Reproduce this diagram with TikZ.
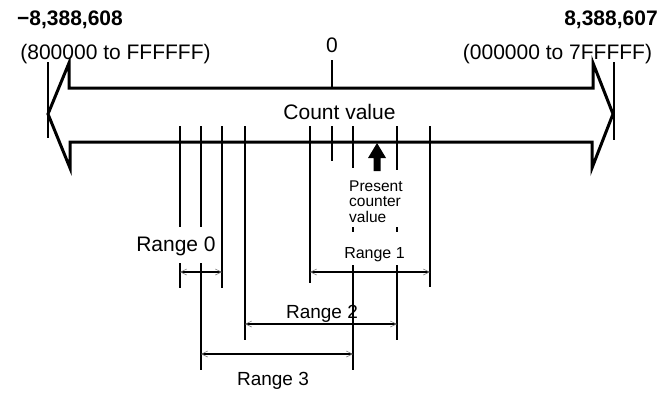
\documentclass[tikz,border=0pt]{standalone}
\usepackage{fontspec}
\setmainfont{Liberation Sans}
\usetikzlibrary{arrows.meta}
\begin{document}
\begin{tikzpicture}[x=1pt,y=-1pt,
  outline/.style={line width=3pt, line join=miter, miter limit=20},
  tick/.style={line width=1.3pt},
  barb/.tip={Straight Barb[length=6pt,width=6pt,line width=0.6pt,color=gray]},
  dim/.style={line width=1.4pt, barb-barb},
  lbl/.style={inner sep=0pt, anchor=base, font=\fontsize{21}{24}\selectfont},
  rlbl/.style={inner sep=0pt, anchor=base, font=\fontsize{19}{22}\selectfont}]
\useasboundingbox (0,0) rectangle (664,392);

% big double arrow
\draw[outline] (69,88) -- (69,63) -- (48,114) -- (70,168) -- (70,142) -- (592,142)
  -- (592,168) -- (613,114) -- (593,63) -- (593,88) -- cycle;
\draw[tick] (48,62) -- (48,138);
\draw[tick] (614,62) -- (614,140);
\draw[tick] (332,60) -- (332,88);

% ticks below the arrow
\draw[tick] (180,126) -- (180,227) (180,263) -- (180,288);
\draw[tick] (201,126) -- (201,227) (201,263) -- (201,370);
\draw[tick] (222,126) -- (222,288);
\draw[tick] (245,126) -- (245,340);
\draw[tick] (310,126) -- (310,283);
\draw[tick] (332,126) -- (332,161);
\draw[tick] (353,126) -- (353,168) (353,227) -- (353,232) (353,265) -- (353,370);
\draw[tick] (397,126) -- (397,170) (397,227) -- (397,232) (397,265) -- (397,340);
\draw[tick] (430,126) -- (430,287);

% dimension lines
\coordinate (r0a) at (180,272); \coordinate (r0b) at (222,272);
\coordinate (r1a) at (310,272); \coordinate (r1b) at (430,272);
\coordinate (r2a) at (245,324); \coordinate (r2b) at (397,324);
\coordinate (r3a) at (201,354); \coordinate (r3b) at (353,354);
\draw[dim] (r0a) -- (r0b);
\draw[dim] (r1a) -- (r1b);
\draw[dim] (r2a) -- (r2b);
\draw[dim] (r3a) -- (r3b);

% present value block arrow
\fill (377,143) -- (386,158) -- (380.5,158) -- (380.5,171) -- (373.5,171)
  -- (373.5,158) -- (368,158) -- cycle;

% labels
\node[lbl, font=\fontsize{21}{24}\selectfont\bfseries] (minv) at (70,25) {−8,388,608};
\node[lbl] (minh) at (115.5,59) {(800000 to FFFFFF)};
\node[lbl, font=\fontsize{21}{24}\selectfont\bfseries] (maxv) at (611,25) {8,388,607};
\node[lbl] (maxh) at (557.5,59) {(000000 to 7FFFFF)};
\node[lbl] (zero) at (332,52) {0};
\node[lbl] (count) at (339.5,119) {Count value};
\node[lbl] (rng0) at (176,251) {Range 0};
\node[inner sep=0pt, anchor=base, font=\fontsize{16}{18}\selectfont] (rng1) at (374.5,258) {Range 1};
\node[rlbl] (rng2) at (322,318) {Range 2};
\node[rlbl] (rng3) at (273,385) {Range 3};
\node[inner sep=0pt, anchor=base west, align=left, font=\fontsize{15.5}{15.5}\selectfont] (pres) at (349,222) {Present\\counter\\value};
\end{tikzpicture}
\end{document}
